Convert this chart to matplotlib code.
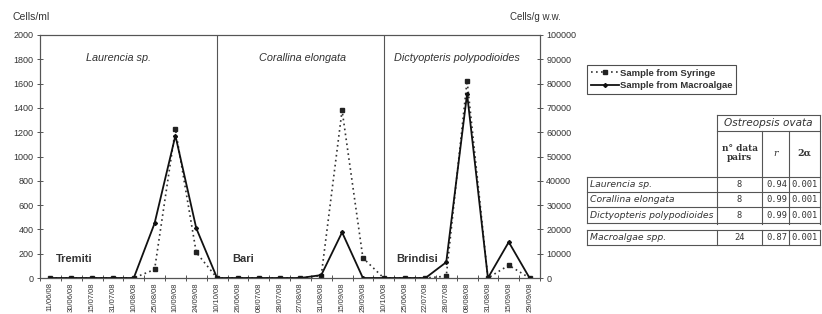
import matplotlib
matplotlib.use('Agg')
import matplotlib.pyplot as plt
from matplotlib.lines import Line2D

plt.rcParams['font.family'] = ['Liberation Sans', 'DejaVu Sans']

# sampling dates (three sites, one after another)
dates = ['11/06/08', '30/06/08', '15/07/08', '31/07/08', '10/08/08', '25/08/08',
         '10/09/08', '24/09/08', '10/10/08',
         '26/06/08', '08/07/08', '28/07/08', '27/08/08', '31/08/08', '15/09/08',
         '29/09/08', '10/10/08',
         '25/06/08', '22/07/08', '28/07/08', '08/08/08', '31/08/08', '15/09/08',
         '29/09/08']

# Cells/ml (left axis)
syringe = [0, 0, 0, 0, 0, 70, 1225, 210, 0,
           0, 0, 0, 0, 20, 1380, 165, 0,
           0, 0, 15, 1625, 0, 105, 0]
# Cells/g w.w. (right axis)
macroalgae = [0, 0, 0, 0, 0, 22500, 58600, 20500, 0,
              0, 0, 0, 0, 1200, 18800, 0, 0,
              0, 0, 6500, 75800, 0, 14800, 0]

dividers = [8, 16]
species = ['Laurencia sp.', 'Corallina elongata', 'Dictyopteris polypodioides']
sites = ['Tremiti', 'Bari', 'Brindisi']

# correlation table
tab_species = ['Laurencia sp.', 'Corallina elongata', 'Dictyopteris polypodioides']
tab_pairs = ['8', '8', '8']
tab_r = ['0.94', '0.99', '0.99']
tab_alpha = ['0.001', '0.001', '0.001']
tot_name, tot_pairs, tot_r, tot_alpha = 'Macroalgae spp.', '24', '0.87', '0.001'

W, H = 822, 314
fig = plt.figure(figsize=(W / 100, H / 100), dpi=100)
ax = fig.add_axes([40 / W, 36 / H, 500 / W, 243 / H])
ax2 = ax.twinx()

x = list(range(len(dates)))
grey = '#555555'
txt = '#333333'

l1, = ax.plot(x, syringe, linestyle=(0, (1, 2)), color='#333333', lw=1.2,
              marker='s', ms=3.2, mfc='#222222', mec='#222222')
l2, = ax2.plot(x, macroalgae, color='#111111', lw=1.3,
               marker='D', ms=2.0, mfc='#111111')

ax.set_xlim(-0.5, len(dates) - 0.5)
ax.set_ylim(0, 2000)
ax2.set_ylim(0, 100000)
ax.set_yticks(range(0, 2001, 200))
ax2.set_yticks(range(0, 100001, 10000))
ax.set_xticks(x)
ax.set_xticklabels(dates, rotation=90, fontsize=5.5, color=txt)
ax.set_xticks([i - 0.5 for i in range(len(dates) + 1)], minor=True)
ax.tick_params(axis='x', which='major', length=0, pad=3)
ax.tick_params(axis='x', which='minor', length=4, direction='inout', color=grey, width=0.7)
ax.tick_params(axis='y', labelsize=6.5, labelcolor=txt, direction='inout', length=5,
               color=grey, width=0.7, pad=2)
ax2.tick_params(axis='y', labelsize=6.5, labelcolor=txt, direction='inout', length=5,
                color=grey, width=0.7, pad=2)

for a in (ax, ax2):
    for s in a.spines.values():
        s.set_color(grey)
        s.set_linewidth(0.8)
ax.spines['bottom'].set_color('#222222')

for d in dividers:
    ax.axvline(d, color=grey, lw=0.8)

sec_mid = [3.25, 12.1, 19.5]
for m, name in zip(sec_mid, species):
    ax.text(m, 1810, name, style='italic', fontsize=7.8, color=txt, ha='center', va='center')
site_x = [0.25, 8.75, 16.6]
for sx, name in zip(site_x, sites):
    ax.text(sx, 155, name, fontweight='bold', fontsize=8, color=txt, ha='left', va='center')

fig.text(12 / W, 1 - 17 / H, 'Cells/ml', fontsize=7.5, color=txt, va='center')
fig.text(561 / W, 1 - 17 / H, 'Cells/g w.w.', fontsize=7, color=txt, va='center', ha='right')

leg = fig.legend([l1, l2], ['Sample from Syringe', 'Sample from Macroalgae'],
                 loc='upper left', bbox_to_anchor=(587 / W, 1 - 65 / H),
                 fontsize=6.8, frameon=True, fancybox=False, handlelength=3.0,
                 handletextpad=0.1, borderpad=0.4, labelspacing=0.35, borderaxespad=0)
leg.get_frame().set_edgecolor('#222222')
leg.get_frame().set_linewidth(0.8)
for t in leg.get_texts():
    t.set_fontweight('bold')
    t.set_color(txt)


# table drawn in pixel coordinates
def hl(x0, x1, y, lw=0.8):
    fig.add_artist(Line2D([x0 / W, x1 / W], [1 - y / H, 1 - y / H], color='#555555', lw=lw))


def vl(xp, y0, y1, lw=0.8):
    fig.add_artist(Line2D([xp / W, xp / W], [1 - y0 / H, 1 - y1 / H], color='#555555', lw=lw))


def tx(xp, y, s, **kw):
    fig.text(xp / W, 1 - y / H, s, va='center', color=txt, **kw)


c0, c1, c2, c3, c4 = 587, 717, 762, 789, 820
hl(c1, c4, 115)
hl(c1, c4, 131)
vl(c1, 115, 224)
vl(c4, 115, 224)
vl(c2, 131, 224)
vl(c3, 131, 224)
tx((c1 + c4) / 2, 123, 'Ostreopsis ovata', style='italic', fontsize=7.6, ha='center',
   family='DejaVu Sans')
tx((c1 + c2) / 2, 153, 'n° data\npairs', fontsize=6.5, ha='center', fontweight='bold',
   family='DejaVu Serif', linespacing=1.1)
tx((c2 + c3) / 2, 153, 'r', style='italic', fontsize=6.8, ha='center', family='DejaVu Serif')
tx((c3 + c4) / 2, 153, '2α', fontsize=6.8, ha='center', fontweight='bold', family='DejaVu Serif')

row_y = [177, 192, 207, 223]
for y in row_y:
    hl(c0, c4, y)
vl(c0, 177, 223)
for i in range(3):
    yc = (row_y[i] + row_y[i + 1]) / 2
    tx(c0 + 3, yc, tab_species[i], style='italic', fontsize=6.7, ha='left', family='DejaVu Sans')
    tx((c1 + c2) / 2, yc, tab_pairs[i], fontsize=6.3, ha='center', family='DejaVu Sans Mono')
    tx(c3 - 2, yc, tab_r[i], fontsize=6.3, ha='right', family='DejaVu Sans Mono')
    tx(c4 - 2, yc, tab_alpha[i], fontsize=6.3, ha='right', family='DejaVu Sans Mono')

ty0, ty1 = 230, 245
hl(c0, c4, ty0)
hl(c0, c4, ty1)
for xp in (c0, c1, c2, c3, c4):
    vl(xp, ty0, ty1)
yc = (ty0 + ty1) / 2
tx(c0 + 3, yc, tot_name, style='italic', fontsize=6.7, ha='left', family='DejaVu Sans')
tx((c1 + c2) / 2, yc, tot_pairs, fontsize=6.3, ha='center', family='DejaVu Sans Mono')
tx(c3 - 2, yc, tot_r, fontsize=6.3, ha='right', family='DejaVu Sans Mono')
tx(c4 - 2, yc, tot_alpha, fontsize=6.3, ha='right', family='DejaVu Sans Mono')

fig.savefig('out.png', dpi=100)
